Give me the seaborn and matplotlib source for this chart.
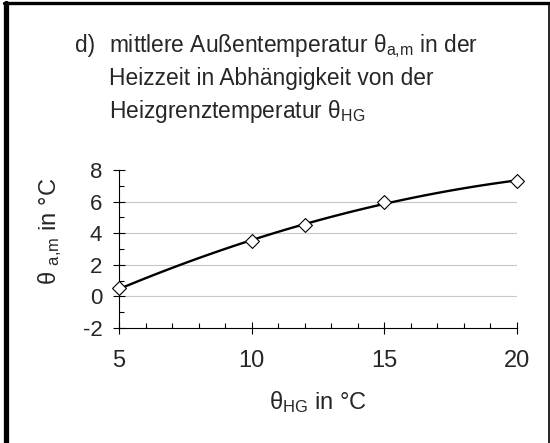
import numpy as np
import pandas as pd
import seaborn as sns
import matplotlib.pyplot as plt
from matplotlib.lines import Line2D
from matplotlib.ticker import MultipleLocator

# Heizgrenztemperatur vs. mittlere Außentemperatur in der Heizzeit
t_hg = [5, 10, 12, 15, 20]
t_am = [0.5, 3.5, 4.5, 6.0, 7.3]

x_ticks = [5, 10, 15, 20]
y_ticks = [-2, 0, 2, 4, 6, 8]

df = pd.DataFrame({"t_hg": t_hg, "t_am": t_am})

sns.set_style("white")
plt.rcParams["font.family"] = ["Liberation Sans", "DejaVu Sans"]
plt.rcParams["mathtext.default"] = "regular"
plt.rcParams["axes.unicode_minus"] = False

fig = plt.figure(figsize=(5.5, 4.43), dpi=100)
ax = fig.add_axes([0.2164, 0.2596, 0.7236, 0.3567])

# smoothed curve (quadratic trend) and the points themselves
sns.regplot(data=df, x="t_hg", y="t_am", order=2, ci=None, scatter=False,
            line_kws={"color": "black", "lw": 1.7}, ax=ax)
sns.scatterplot(data=df, x="t_hg", y="t_am", marker="D", s=50,
                facecolor="white", edgecolor="black", linewidth=0.8,
                zorder=5, clip_on=False, ax=ax)

ax.set_xlim(5, 20)
ax.set_ylim(-2, 8)
ax.set_xticks(x_ticks)
ax.set_yticks(y_ticks)
ax.xaxis.set_minor_locator(MultipleLocator(1))
ax.yaxis.set_minor_locator(MultipleLocator(1))

ax.tick_params(axis="both", which="major", direction="inout", length=8,
               width=0.8, color="black")
ax.tick_params(axis="both", which="minor", direction="in", length=3.6,
               width=0.8, color="black")
ax.tick_params(axis="x", which="major", labelsize=17, pad=12)
ax.tick_params(axis="y", which="major", labelsize=16, pad=8)
ax.xaxis.set_ticks_position("bottom")
ax.yaxis.set_ticks_position("left")

for side in ["top", "right"]:
    ax.spines[side].set_visible(False)
for side in ["left", "bottom"]:
    ax.spines[side].set_color("black")
    ax.spines[side].set_linewidth(0.8)

ax.grid(axis="y", color="#c8c8c8", lw=0.8)
for val, gl in zip(ax.get_yticks(), ax.yaxis.get_gridlines()):
    if val in (y_ticks[0], y_ticks[-1]):
        gl.set_visible(False)
ax.set_axisbelow(True)

ax.set_xlabel("θ$_{HG}$ in °C", fontsize=17, labelpad=12)
ax.set_ylabel("θ $_{a{,}m}$ in °C", fontsize=17)
ax.yaxis.set_label_coords(-0.138, 0.61)

# title block
fs_title = 16.4
fig.text(75 / 550, 1 - 52 / 443, "d)", fontsize=fs_title, va="baseline")
fig.text(109 / 550, 1 - 52 / 443, "mittlere Außentemperatur θ$_{a{,}m}$ in der",
         fontsize=fs_title, va="baseline")
fig.text(109 / 550, 1 - 85 / 443, "Heizzeit in Abhängigkeit von der",
         fontsize=fs_title, va="baseline")
fig.text(109 / 550, 1 - 118 / 443, "Heizgrenztemperatur θ$_{HG}$",
         fontsize=fs_title, va="baseline")

# frame around the figure
fig.add_artist(Line2D([5.5 / 550, 5.5 / 550], [0, 1 - 3 / 443],
                      transform=fig.transFigure, color="black", lw=3.8))
fig.add_artist(Line2D([3.6 / 550, 548.5 / 550], [1 - 3 / 443, 1 - 3 / 443],
                      transform=fig.transFigure, color="black", lw=2.4))
fig.add_artist(Line2D([548.5 / 550, 548.5 / 550], [0, 1 - 3 / 443],
                      transform=fig.transFigure, color="black", lw=1.2))

fig.savefig("out.png", dpi=100)
